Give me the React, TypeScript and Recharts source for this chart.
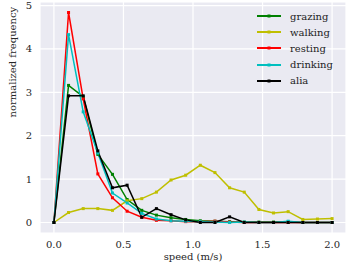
import React from 'react';
import { LineChart, Line, XAxis, YAxis, CartesianGrid } from 'recharts';

// speed bins: 20 points evenly spaced from 0 to 2 m/s
const speeds = Array.from({ length: 20 }, (_, i) => (i * 2) / 19);

const grazing = [0, 3.16, 2.9, 1.57, 1.11, 0.53, 0.28, 0.17, 0.11, 0.07, 0.04, 0.03, 0.02, 0.01, 0.01, 0.01, 0.01, 0, 0, 0];
const walking = [0, 0.23, 0.32, 0.32, 0.28, 0.5, 0.55, 0.7, 0.98, 1.09, 1.32, 1.15, 0.8, 0.7, 0.3, 0.22, 0.25, 0.07, 0.08, 0.09];
const resting = [0, 4.84, 2.85, 1.12, 0.57, 0.26, 0.12, 0.05, 0.04, 0.02, 0.02, 0.03, 0.01, 0, 0, 0, 0, 0, 0, 0];
const drinking = [0, 4.33, 2.55, 1.6, 0.68, 0.45, 0.21, 0.08, 0.04, 0.03, 0.02, 0.01, 0, 0.01, 0, 0, 0.03, 0, 0, 0];
const alia = [0, 2.92, 2.92, 1.65, 0.8, 0.86, 0.12, 0.32, 0.18, 0.06, 0, 0, 0.13, 0, 0, 0, 0, 0, 0, 0];

const xTicks = [0, 0.5, 1, 1.5, 2];
const yTicks = [0, 1, 2, 3, 4, 5];

const SERIES = [
  { key: 'grazing', color: '#008000', values: grazing },
  { key: 'walking', color: '#bfbf00', values: walking },
  { key: 'resting', color: '#ff0000', values: resting },
  { key: 'drinking', color: '#00bfbf', values: drinking },
  { key: 'alia', color: '#000000', values: alia },
];

const data = speeds.map((s, i) => {
  const row: Record<string, number> = { speed: s };
  SERIES.forEach((sr) => {
    row[sr.key] = sr.values[i];
  });
  return row;
});

const FONT = '"DejaVu Serif", serif';

const SquareDot = (color: string) => (props: any) => {
  const { cx, cy, index } = props;
  if (cx == null || cy == null) return <g key={index} />;
  return <rect key={index} x={cx - 1.5} y={cy - 1.5} width={3} height={3} fill={color} />;
};

const LegendBox = () => (
  <div style={{ position: 'absolute', left: 257, top: 8, fontFamily: FONT, fontSize: 10, color: '#222' }}>
    {SERIES.map((s) => (
      <div key={s.key} style={{ display: 'flex', alignItems: 'center', height: 16.2 }}>
        <svg width={24} height={6} style={{ marginRight: 9 }}>
          <line x1={0} y1={3} x2={24} y2={3} stroke={s.color} strokeWidth={2} />
          <rect x={10.5} y={1.5} width={3} height={3} fill={s.color} />
        </svg>
        <span>{s.key}</span>
      </div>
    ))}
  </div>
);

export default function App() {
  return (
    <div style={{ position: 'absolute', left: 0, top: 0, width: 349, height: 262, background: '#fff' }}>
      <LineChart width={349} height={262} data={data} margin={{ top: 2, right: 3, left: 0, bottom: 0 }}>
        <CartesianGrid fill="#eaeaf2" stroke="#ffffff" strokeWidth={1.2} />
        <XAxis
          dataKey="speed"
          type="number"
          domain={[-0.1, 2.1]}
          ticks={xTicks}
          tickFormatter={(v: number) => v.toFixed(1)}
          tick={{ fill: '#262626', fontSize: 10, fontFamily: FONT }}
          tickLine={false}
          axisLine={false}
          height={29}
          tickMargin={2}
          label={{ value: 'speed (m/s)', position: 'insideBottom', offset: 2, fill: '#262626', fontSize: 10, fontFamily: FONT }}
        />
        <YAxis
          type="number"
          domain={[-0.242, 5.082]}
          ticks={yTicks}
          allowDataOverflow
          tick={{ fill: '#262626', fontSize: 10, fontFamily: FONT }}
          tickLine={false}
          axisLine={false}
          width={40}
          tickMargin={2}
          label={{ value: 'normalized frequency', angle: -90, position: 'insideLeft', offset: 12, fill: '#262626', fontSize: 10, fontFamily: FONT }}
        />
        {SERIES.map((s) => (
          <Line
            key={s.key}
            type="linear"
            dataKey={s.key}
            stroke={s.color}
            strokeWidth={1.5}
            dot={SquareDot(s.color)}
            activeDot={false}
            isAnimationActive={false}
          />
        ))}
      </LineChart>
      <LegendBox />
    </div>
  );
}
